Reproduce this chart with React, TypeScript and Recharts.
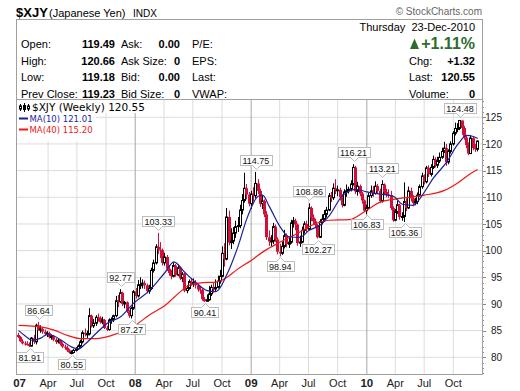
import { Bar, CartesianGrid, ComposedChart, Line, ReferenceDot, XAxis, YAxis } from 'recharts';

const RED = '#d10f3b';
const MA10_BLUE = '#1e1e9c';
const MA40_RED = '#f01818';
const GREEN = '#2f6b2f';
const FONT = '"Liberation Sans", Arial, Helvetica, sans-serif';
const LEGEND_FONT = '"DejaVu Sans", Verdana, sans-serif';

// weekly bars, one per week starting with the week ending 5-Jan-2007
// open of each week is the previous week's close
const firstOpen = 84.2;

const close07 = [
  83.8, 83.0, 82.6, 82.5, 82.4, 82.1, 83.6, 82.9, 86.0, 85.1,
  85.3, 84.8, 84.4, 84.5, 83.8, 83.9, 83.3, 82.9, 83.1, 82.5,
  82.0, 81.8, 81.3, 80.9, 80.9, 81.3, 81.6, 82.1, 82.9, 84.6,
  84.3, 84.4, 87.8, 85.9, 86.4, 87.5, 87.4, 86.6, 87.0, 85.5,
  85.2, 87.0, 87.1, 87.8, 90.6, 90.4, 92.1, 90.0, 90.3, 88.6,
  87.8, 89.2,
];
const high07 = [
  84.6, 84.0, 83.4, 83.0, 83.0, 82.8, 83.8, 84.2, 86.3, 86.64,
  86.0, 85.7, 85.2, 84.9, 84.8, 84.3, 84.2, 83.6, 83.5, 83.3,
  82.8, 82.4, 82.2, 81.6, 81.3, 81.6, 81.9, 82.4, 83.3, 85.0,
  85.4, 85.0, 89.2, 88.0, 87.2, 87.9, 88.2, 87.7, 87.6, 87.2,
  85.9, 87.3, 87.5, 88.0, 91.5, 91.7, 92.77, 92.3, 90.6, 90.5,
  88.9, 89.5,
];
const low07 = [
  83.6, 82.9, 82.4, 82.2, 82.2, 81.91, 82.0, 82.5, 82.4, 85.0,
  84.6, 84.4, 84.0, 83.8, 83.5, 83.3, 83.0, 82.5, 82.6, 82.2,
  81.7, 81.4, 81.0, 80.7, 80.55, 80.7, 81.1, 81.4, 81.8, 82.6,
  83.9, 83.6, 84.1, 85.6, 85.5, 85.9, 86.7, 86.3, 86.2, 85.3,
  84.9, 85.0, 86.3, 86.6, 87.5, 89.4, 90.2, 89.6, 89.2, 88.3,
  87.4, 87.27,
];

const close08 = [
  92.3, 91.5, 93.6, 93.6, 93.9, 93.5, 92.4, 92.9, 96.3, 97.7,
  100.7, 100.2, 100.1, 97.7, 98.8, 96.6, 95.8, 95.2, 97.2, 95.4,
  96.8, 94.8, 95.6, 92.5, 92.9, 94.2, 93.7, 94.0, 93.5, 92.7,
  92.6, 90.9, 90.5, 90.8, 91.9, 93.1, 92.8, 93.1, 94.3, 95.2,
  99.5, 98.4, 106.3, 101.5, 101.8, 103.3, 104.5, 104.7, 107.6, 109.4,
  111.7, 110.5,
];
const high08 = [
  92.6, 93.0, 94.5, 95.0, 94.6, 94.4, 93.8, 93.6, 96.8, 98.3,
  101.2, 103.33, 101.6, 100.4, 99.6, 99.2, 97.3, 96.4, 97.8, 97.5,
  97.4, 97.0, 96.0, 95.8, 93.5, 94.6, 94.9, 94.8, 94.5, 93.8,
  93.2, 92.9, 91.3, 91.8, 93.4, 93.6, 93.9, 94.6, 95.3, 96.4,
  100.8, 101.4, 108.0, 107.5, 104.2, 104.4, 105.6, 106.3, 108.6, 110.6,
  114.6, 112.5,
];
const low08 = [
  88.9, 91.0, 91.2, 92.8, 92.9, 92.8, 92.0, 91.9, 92.6, 95.9,
  97.4, 99.4, 98.6, 97.2, 97.2, 96.2, 95.3, 94.6, 95.0, 95.1,
  95.2, 94.5, 94.1, 92.2, 92.0, 92.7, 93.4, 93.2, 92.9, 92.3,
  91.9, 90.6, 90.41, 90.5, 90.6, 91.5, 92.1, 92.4, 92.9, 93.8,
  95.0, 97.0, 98.2, 101.0, 100.3, 101.2, 102.4, 103.5, 104.2, 106.8,
  109.0, 109.6,
];

const close09 = [
  108.8, 110.6, 110.3, 112.6, 111.2, 108.8, 109.3, 106.8, 102.5, 101.7,
  101.8, 104.5, 102.1, 99.8, 99.5, 100.8, 102.8, 101.2, 101.6, 105.2,
  105.6, 104.9, 101.4, 101.6, 103.8, 105.0, 104.0, 108.0, 106.2, 105.5,
  104.8, 102.5, 105.4, 105.9, 106.8, 107.6, 110.3, 109.9, 111.7, 111.4,
  111.4, 110.0, 108.5, 111.0, 111.2, 111.5, 112.5, 115.6, 111.1, 112.1,
  110.7, 109.4,
];
const high09 = [
  111.0, 111.2, 111.9, 114.75, 113.4, 111.6, 110.4, 109.6, 107.4, 103.8,
  102.9, 105.2, 104.9, 102.5, 101.3, 101.7, 103.9, 103.2, 102.6, 105.8,
  106.3, 106.0, 105.1, 102.8, 104.5, 105.5, 105.6, 108.86, 108.3, 106.8,
  106.0, 105.0, 105.9, 106.8, 107.6, 108.2, 110.8, 111.0, 112.6, 113.4,
  112.2, 111.8, 110.6, 111.5, 112.4, 112.0, 113.2, 116.21, 115.9, 112.9,
  112.4, 111.0,
];
const low09 = [
  108.3, 107.8, 109.2, 109.8, 110.6, 108.2, 107.8, 106.3, 102.0, 100.9,
  100.8, 101.2, 101.6, 99.3, 98.94, 99.2, 100.4, 100.6, 100.5, 101.3,
  104.3, 103.8, 100.9, 100.7, 101.4, 103.2, 103.5, 103.8, 105.5, 104.9,
  104.2, 102.27, 102.4, 104.9, 105.5, 106.2, 107.4, 109.1, 109.5, 110.6,
  110.2, 109.4, 108.1, 108.3, 110.1, 110.7, 111.1, 112.2, 110.6, 110.3,
  110.2, 108.8,
];

const close10 = [
  107.5, 108.0, 110.3, 111.2, 110.7, 112.1, 111.2, 109.3, 112.4, 111.0,
  110.5, 110.4, 108.0, 105.7, 107.3, 108.6, 106.3, 106.4, 109.2, 108.0,
  111.2, 109.8, 108.9, 109.2, 110.4, 112.0, 114.0, 112.9, 115.5, 114.3,
  115.6, 117.1, 116.0, 116.8, 117.5, 118.6, 119.2, 116.6, 118.6, 120.0,
  122.0, 122.9, 122.9, 124.4, 123.0, 121.2, 119.8, 118.2, 121.1, 119.2,
  119.0, 120.55,
];
const high10 = [
  109.6, 108.6, 110.8, 112.2, 112.1, 113.0, 112.5, 111.6, 113.21, 112.6,
  111.6, 111.5, 111.2, 108.3, 107.8, 109.4, 108.8, 107.2, 112.8, 109.8,
  112.0, 111.8, 110.4, 109.9, 110.9, 112.4, 114.6, 114.3, 115.9, 116.0,
  116.2, 117.8, 117.5, 117.6, 118.4, 119.3, 120.4, 120.0, 119.0, 120.5,
  122.4, 124.0, 123.9, 124.48, 124.4, 123.4, 121.6, 120.3, 121.6, 121.3,
  120.0, 120.66,
];
const low10 = [
  107.2, 106.83, 107.8, 109.9, 110.1, 110.5, 110.7, 108.9, 109.0, 110.6,
  110.0, 109.9, 107.6, 105.4, 105.5, 106.9, 105.8, 105.6, 105.36, 107.4,
  107.8, 109.2, 108.3, 108.5, 108.7, 110.1, 111.6, 112.4, 112.6, 113.8,
  113.9, 115.3, 115.6, 115.5, 116.4, 117.2, 118.3, 115.9, 116.2, 118.2,
  119.7, 121.6, 122.2, 122.6, 121.7, 120.8, 119.2, 117.9, 118.1, 118.8,
  118.5, 118.6,
];

// moving averages (week index -> value)
const ma10Weeks = [0, 3, 6, 10, 13, 16, 20, 24, 27, 30, 35, 40, 46, 52, 59, 66, 70, 75, 80, 85, 89, 94, 99, 103, 108, 110, 113, 118, 122, 127, 131, 136, 140, 146, 152, 157, 163, 169, 173, 178, 181, 187, 193, 198, 202, 205, 207];
const ma10Values = [85.0, 84.0, 83.2, 83.6, 84.3, 84.0, 83.0, 81.9, 81.6, 82.5, 84.5, 86.4, 87.6, 90.2, 92.5, 95.9, 97.9, 95.9, 94.0, 92.5, 92.3, 95.6, 100.9, 106.1, 110.2, 110.4, 108.3, 104.4, 102.6, 102.5, 103.8, 104.8, 106.5, 110.3, 111.5, 111.0, 110.6, 110.2, 108.7, 108.5, 109.8, 113.6, 116.6, 119.9, 121.6, 121.4, 121.01];
const ma40Weeks = [0, 10, 16, 22, 28, 35, 42, 51, 60, 66, 70, 77, 83, 89, 94, 98, 105, 111, 118, 126, 133, 140, 149, 157, 163, 169, 176, 183, 192, 198, 204, 207];
const ma40Values = [86.0, 85.7, 85.1, 84.1, 83.5, 83.5, 84.1, 85.6, 88.2, 89.7, 91.2, 93.5, 94.0, 94.1, 95.0, 96.3, 98.2, 100.0, 101.6, 103.3, 104.9, 105.7, 105.8, 107.6, 109.1, 109.6, 110.0, 110.4, 111.3, 112.7, 114.5, 115.2];

// labelled swing highs / lows
const peakWeeks = [5, 9, 24, 46, 51, 63, 84, 107, 118, 131, 135, 151, 157, 164, 174, 199];
const peakValues = [81.91, 86.64, 80.55, 92.77, 87.27, 103.33, 90.41, 114.75, 98.94, 108.86, 102.27, 116.21, 106.83, 113.21, 105.36, 124.48];
const peakSides = ['low', 'high', 'low', 'high', 'low', 'high', 'low', 'high', 'low', 'high', 'low', 'high', 'low', 'high', 'low', 'high'];

const quarterStarts = [
  '2007-01-01', '2007-04-01', '2007-07-01', '2007-10-01',
  '2008-01-01', '2008-04-01', '2008-07-01', '2008-10-01',
  '2009-01-01', '2009-04-01', '2009-07-01', '2009-10-01',
  '2010-01-01', '2010-04-01', '2010-07-01', '2010-10-01',
];
const quarterLabels = ['07', 'Apr', 'Jul', 'Oct', '08', 'Apr', 'Jul', 'Oct', '09', 'Apr', 'Jul', 'Oct', '10', 'Apr', 'Jul', 'Oct'];
const priceLabels = [80, 85, 90, 95, 100, 105, 110, 115, 120, 125];

// quote panel
const quoteLabels = ['Open:', 'High:', 'Low:', 'Prev Close:'];
const quoteValues = ['119.49', '120.66', '119.18', '119.23'];
const bookLabels = ['Ask:', 'Ask Size:', 'Bid:', 'Bid Size:'];
const bookValues = ['0.00', '0', '0.00', '0'];
const fundLabels = ['P/E:', 'EPS:', 'Last:', 'VWAP:'];
const sideLabels = ['Chg:', 'Last:', 'Volume:'];
const sideValues = ['+1.32', '120.55', '0'];

const WEEK_MS = 7 * 86400000;
const axisBase = Date.UTC(2006, 11, 29);
const quarterPos = quarterStarts.map((d) => (Date.parse(d) - axisBase) / WEEK_MS);
const isYear = (label: string) => /^\d\d$/.test(label);

const closes = [...close07, ...close08, ...close09, ...close10];
const highs = [...high07, ...high08, ...high09, ...high10];
const lows = [...low07, ...low08, ...low09, ...low10];

type Row = { w: number; o: number; c: number; range: [number, number]; ma10?: number; ma40?: number };
const rows: Row[] = closes.map((c, i) => ({
  w: i,
  o: i === 0 ? firstOpen : closes[i - 1],
  c,
  range: [lows[i], highs[i]],
}));
ma10Weeks.forEach((w, k) => { rows[w].ma10 = ma10Values[k]; });
ma40Weeks.forEach((w, k) => { rows[w].ma40 = ma40Values[k]; });

const minorTicks = Array.from({ length: 52 }, (_, k) => 77 + k);
const lastClose = closes[closes.length - 1].toFixed(2);
const lastMa10 = ma10Values[ma10Values.length - 1].toFixed(2);
const lastMa40 = ma40Values[ma40Values.length - 1].toFixed(2);

function Candle(props: any) {
  const { x, y, width, height, payload } = props;
  if (!payload || height == null) return null;
  const [lo, hi] = payload.range;
  const span = hi - lo || 1;
  const py = (v: number) => y + ((hi - v) / span) * height;
  const p = Math.floor(x + width / 2);
  const cx = p + 0.5;
  const up = payload.c >= payload.o;
  const top = py(Math.max(payload.o, payload.c));
  const bot = py(Math.min(payload.o, payload.c));
  const color = up ? '#000' : RED;
  return (
    <g>
      <line x1={cx} x2={cx} y1={y} y2={y + height} stroke={color} strokeWidth={1} />
      {up ? (
        <rect x={p - 0.5} y={top} width={2} height={Math.max(bot - top, 1)} fill="#fff" stroke="#000" strokeWidth={1} />
      ) : (
        <rect x={p - 1} y={top} width={3} height={Math.max(bot - top, 1)} fill={RED} />
      )}
    </g>
  );
}

function PeakTag({ cx, cy, text, side }: { cx?: number; cy?: number; text: string; side: string }) {
  if (cx == null || cy == null) return null;
  const w = text.length * 5 + 2;
  const h = 10;
  const px = Math.round(cx) + 0.5;
  const left = Math.round(cx - w / 2) + 0.5;
  const top = side === 'high' ? Math.round(cy) - 16.5 : Math.round(cy) + 5.5;
  const edge = side === 'high' ? top + h : top;
  const tip = side === 'high' ? edge + 4 : edge - 4;
  return (
    <g>
      <rect x={left} y={top} width={w} height={h} fill="#fff" stroke="#bdbdbd" />
      <polyline points={`${px - 4},${edge} ${px},${tip} ${px + 4},${edge}`} fill="#fff" stroke="#bdbdbd" />
      <line x1={px - 3.5} x2={px + 3.5} y1={edge} y2={edge} stroke="#fff" />
      <text x={cx} y={top + 8.4} textAnchor="middle" fontSize={9} fontFamily={FONT} fill="#111">{text}</text>
    </g>
  );
}

function WeekTick(props: any) {
  const { x, payload } = props;
  const label = quarterLabels[quarterPos.indexOf(payload.value)] ?? '';
  const year = isYear(label);
  return (
    <text x={x} y={387} textAnchor="middle" fontSize={year ? 11.5 : 11} fontWeight={year ? 'bold' : 'normal'} fontFamily={FONT} fill="#222">
      {label}
    </text>
  );
}

function PriceTick(props: any) {
  const { y, payload } = props;
  const v = payload.value;
  const major = v % 5 === 0;
  const ly = Math.round(y) + 0.5;
  return (
    <g>
      <line x1={482} x2={major ? 486 : 484} y1={ly} y2={ly} stroke="#8a8a8a" />
      {major && (
        <text x={502} y={y + 3.6} textAnchor="end" fontSize={10} fontFamily={FONT} fill="#222">{v}</text>
      )}
    </g>
  );
}

export default function App() {
  const rowBase = [48, 65, 81, 98];
  return (
    <div style={{ position: 'relative', width: 520, height: 391, background: '#fff', fontFamily: FONT }}>
      <style>{'body{margin:0;background:#fff}'}</style>
      <ComposedChart width={520} height={391} data={rows} margin={{ top: 100, right: 0, bottom: 0, left: 17 }}>
        <CartesianGrid
          horizontalValues={priceLabels}
          verticalValues={quarterPos.filter((_, k) => k > 0 && !isYear(quarterLabels[k]))}
          stroke="#dcdcdc"
        />
        <CartesianGrid
          horizontal={false}
          verticalValues={quarterPos.filter((_, k) => k > 0 && isYear(quarterLabels[k]))}
          stroke="#a6a6a6"
        />
        <XAxis
          dataKey="w"
          type="number"
          domain={[-0.72, 208.93]}
          allowDataOverflow
          ticks={quarterPos}
          interval={0}
          tick={(p: any) => <WeekTick {...p} />}
          tickLine={false}
          axisLine={false}
          height={17}
        />
        <YAxis
          orientation="right"
          type="number"
          domain={[76.87, 128.24]}
          allowDataOverflow
          ticks={minorTicks}
          interval={0}
          tick={(p: any) => <PriceTick {...p} />}
          tickLine={false}
          axisLine={false}
          width={38}
        />
        <Bar dataKey="range" barSize={3} shape={(p: any) => <Candle {...p} />} isAnimationActive={false} />
        <Line dataKey="ma40" type="monotone" stroke={MA40_RED} strokeWidth={1.2} dot={false} connectNulls isAnimationActive={false} />
        <Line dataKey="ma10" type="monotone" stroke={MA10_BLUE} strokeWidth={1.2} dot={false} connectNulls isAnimationActive={false} />
        {peakWeeks.map((w, k) => (
          <ReferenceDot
            key={w}
            x={w}
            y={peakValues[k]}
            r={0}
            ifOverflow="visible"
            shape={(p: any) => <PeakTag cx={p.cx} cy={p.cy} text={peakValues[k].toFixed(2)} side={peakSides[k]} />}
          />
        ))}
      </ComposedChart>

      <svg width={520} height={391} style={{ position: 'absolute', left: 0, top: 0, pointerEvents: 'none' }} fontFamily={FONT}>
        {/* title */}
        <text x={16} y={17} fontSize={13} fontWeight="bold" fill="#000">$XJY</text>
        <text x={49} y={17} fontSize={11} fill="#000">(Japanese Yen)</text>
        <text x={133} y={17} fontSize={10} fill="#000">INDX</text>
        <text x={482} y={15} fontSize={10} fill="#666" textAnchor="end">© StockCharts.com</text>

        {/* frame */}
        <rect x={16.5} y={19.5} width={466} height={355} fill="none" stroke="#a0a0a0" />
        <line x1={16.5} x2={482.5} y1={99.5} y2={99.5} stroke="#a0a0a0" />

        {/* quote panel */}
        {quoteLabels.map((t, k) => (
          <g key={t}>
            <text x={21} y={rowBase[k]} fontSize={11}>{t}</text>
            <text x={115} y={rowBase[k]} fontSize={11} fontWeight="bold" textAnchor="end">{quoteValues[k]}</text>
            <text x={121} y={rowBase[k]} fontSize={11}>{bookLabels[k]}</text>
            <text x={180} y={rowBase[k]} fontSize={11} fontWeight="bold" textAnchor="end">{bookValues[k]}</text>
            <text x={192} y={rowBase[k]} fontSize={11}>{fundLabels[k]}</text>
          </g>
        ))}
        <text x={475} y={31} fontSize={11} textAnchor="end">{'Thursday\u00a0\u00a023-Dec-2010'}</text>
        <polygon points="410,49 419,49 414.5,38.5" fill={GREEN} />
        <text x={475} y={49} fontSize={16} fontWeight="bold" fill={GREEN} textAnchor="end">+1.11%</text>
        {sideLabels.map((t, k) => (
          <g key={t}>
            <text x={409} y={rowBase[k + 1]} fontSize={11}>{t}</text>
            <text x={475} y={rowBase[k + 1]} fontSize={11} fontWeight="bold" textAnchor="end">{sideValues[k]}</text>
          </g>
        ))}

        {/* legend */}
        <rect x={17} y={100} width={140} height={13} fill="#fff" />
        <rect x={17} y={113} width={79} height={28} fill="#fff" />
        <line x1={20.5} x2={20.5} y1={104} y2={111} stroke="#000" />
        <rect x={19.5} y={106} width={2} height={3} fill="#fff" stroke="#000" />
        <line x1={24.5} x2={24.5} y1={103} y2={112} stroke="#000" />
        <rect x={23} y={105} width={3} height={5} fill="#000" />
        <line x1={28.5} x2={28.5} y1={104} y2={111} stroke="#000" />
        <rect x={27.5} y={106} width={2} height={3} fill="#fff" stroke="#000" />
        <text x={32} y={111} fontSize={10.5} fontFamily={LEGEND_FONT} fill="#000">{`$XJY (Weekly) ${lastClose}`}</text>
        <line x1={19} x2={28} y1={118.5} y2={118.5} stroke={MA10_BLUE} strokeWidth={2} />
        <text x={29.5} y={121.5} fontSize={8.5} fontFamily={LEGEND_FONT} fill={MA10_BLUE}>{`MA(10) ${lastMa10}`}</text>
        <line x1={19} x2={28} y1={129.5} y2={129.5} stroke={MA40_RED} strokeWidth={2} />
        <text x={29.5} y={132.5} fontSize={8.5} fontFamily={LEGEND_FONT} fill={MA40_RED}>{`MA(40) ${lastMa40}`}</text>
      </svg>
    </div>
  );
}
